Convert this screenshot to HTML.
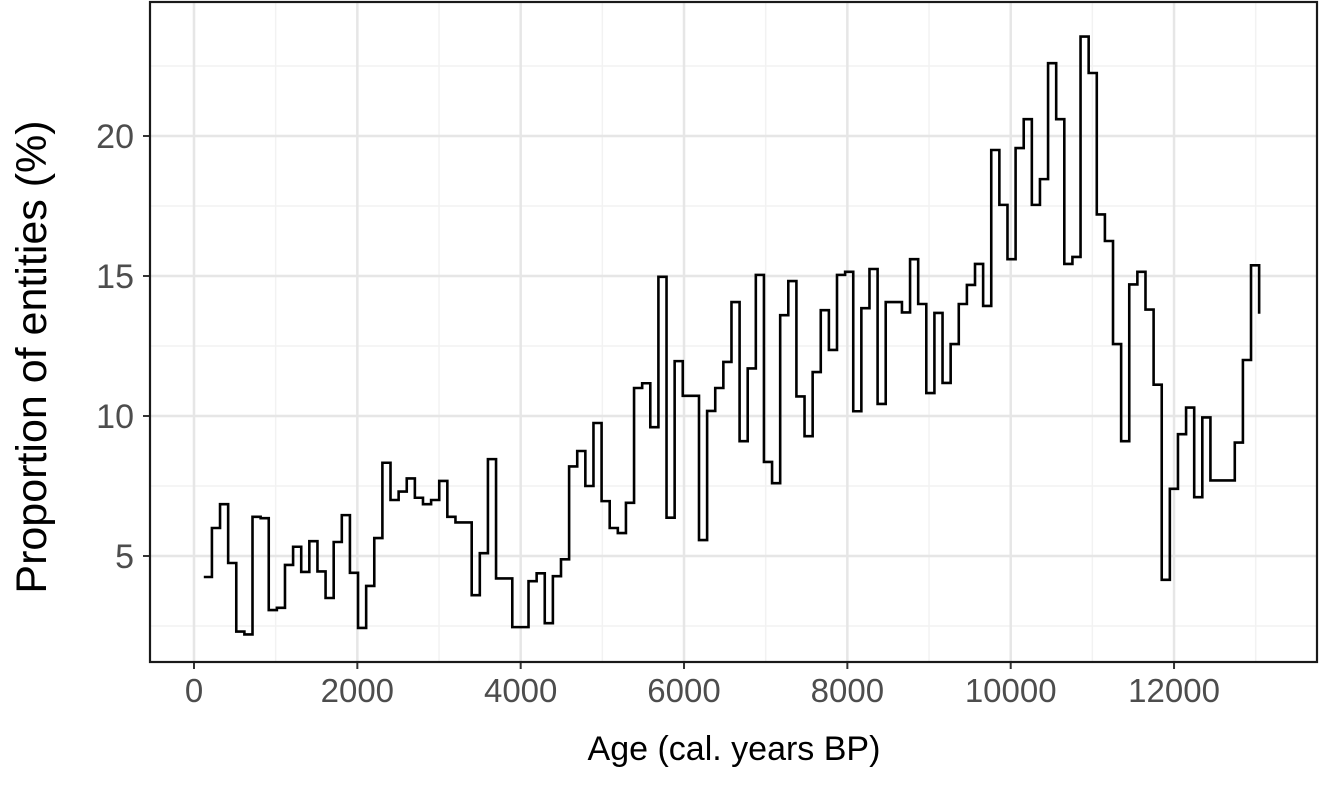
<!DOCTYPE html>
<html><head><meta charset="utf-8"><style>
body{margin:0;background:#fff}
svg{display:block;font-family:"Liberation Sans",sans-serif}
</style></head><body>
<svg id="chart" width="1323" height="807" viewBox="0 0 1323 807">
<g id="grid"></g><g id="ticks"></g>
<path id="line" fill="none" stroke="#000" stroke-width="2.6" stroke-linejoin="miter"/>
<rect x="150" y="2" width="1167" height="660" fill="none" stroke="#1a1a1a" stroke-width="2.2"/>
<text x="734" y="760" font-size="34" text-anchor="middle" fill="#000">Age (cal. years BP)</text>
<text transform="translate(46,357) rotate(-90)" font-size="43" text-anchor="middle" fill="#000">Proportion of entities (%)</text>
</svg>
<script>
const startAge = 120;
const binWidth = 99.4;
const values = [4.25,6.0,6.85,4.75,2.3,2.2,6.4,6.35,3.07,3.15,4.68,5.33,4.43,5.53,4.45,3.5,5.5,6.46,4.4,2.43,
3.93,5.64,8.33,7.0,7.3,7.77,7.08,6.85,7.0,7.68,6.4,6.2,6.2,3.6,5.1,8.46,4.2,4.2,2.46,2.46,
4.1,4.38,2.6,4.28,4.88,8.2,8.75,7.5,9.75,6.96,6.0,5.82,6.9,11.0,11.17,9.6,14.97,6.37,11.96,10.72,10.72,
5.57,10.18,11.0,11.93,14.07,9.1,11.7,15.04,8.36,7.6,13.6,14.82,10.7,9.28,11.57,13.78,12.36,15.04,15.15,10.17,
13.85,15.25,10.43,14.07,14.07,13.7,15.6,14.0,10.82,13.68,11.18,12.57,14.0,14.68,15.43,13.93,19.5,17.54,15.6,19.57,
20.6,17.54,18.46,22.6,20.6,15.43,15.68,23.55,22.25,17.2,16.25,12.57,9.1,14.7,15.15,13.8,11.12,4.15,7.4,9.35,
10.3,7.1,9.95,7.7,7.7,7.7,9.05,12.0,15.38,13.65];
const xTicks = [0,2000,4000,6000,8000,10000,12000];
const xMinor = [1000,3000,5000,7000,9000,11000,13000];
const yTicks = [5,10,15,20];
const yMinor = [2.5,7.5,12.5,17.5,22.5];
const X = a => 194 + a * 0.08167;
const Y = v => 696 - v * 28;
const NS = "http://www.w3.org/2000/svg";
const grid = document.getElementById('grid'), ticks = document.getElementById('ticks');
function mk(tag, attrs, parent){const e=document.createElementNS(NS,tag);for(const k in attrs)e.setAttribute(k,attrs[k]);parent.appendChild(e);return e;}
xMinor.forEach(a=>{const l=mk('line',{x1:X(a),x2:X(a),y1:2,y2:662,stroke:'#f2f2f2','stroke-width':1.5},grid);

});
yMinor.forEach(v=>{const l=mk('line',{x1:150,x2:1317,y1:Y(v),y2:Y(v),stroke:'#f2f2f2','stroke-width':1.5},grid);

});
xTicks.forEach(a=>{const l=mk('line',{x1:X(a),x2:X(a),y1:2,y2:662,stroke:'#e6e6e6','stroke-width':2.5},grid);


const t=mk('line',{x1:X(a),x2:X(a),y1:662,y2:669,stroke:'#333','stroke-width':2},ticks);


const tx=mk('text',{x:X(a),y:702,'font-size':33,'text-anchor':'middle',fill:'#4d4d4d'},ticks);
tx.textContent=a;

});
yTicks.forEach(v=>{const l=mk('line',{x1:150,x2:1317,y1:Y(v),y2:Y(v),stroke:'#e6e6e6','stroke-width':2.5},grid);


const t=mk('line',{x1:143,x2:150,y1:Y(v),y2:Y(v),stroke:'#333','stroke-width':2},ticks);


const tx=mk('text',{x:134,y:Y(v)+12,'font-size':34,'text-anchor':'end',fill:'#4d4d4d'},ticks);
tx.textContent=v;

});
let d='';
values.forEach((v,i)=>{const x=X(startAge+i*binWidth);
if(i===0)d+='M'+x+','+Y(v);else d+='V'+Y(v);
if(i<values.length-1)d+='H'+X(startAge+(i+1)*binWidth);});
document.getElementById('line').setAttribute('d',d);
</script>
</body></html>
